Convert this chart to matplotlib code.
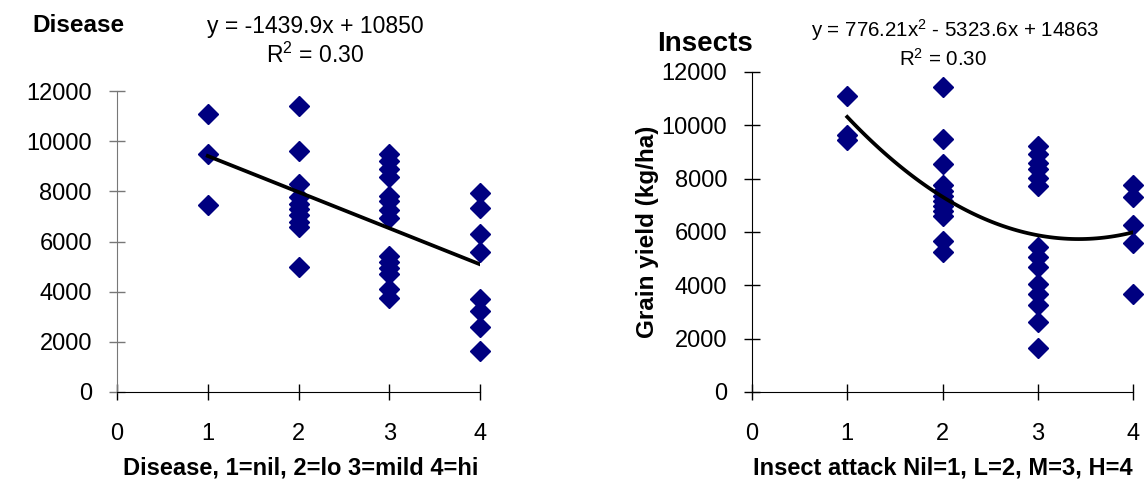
import numpy as np
import matplotlib.pyplot as plt
from matplotlib import rcParams

rcParams['font.family'] = ['Liberation Sans', 'DejaVu Sans']
rcParams['mathtext.default'] = 'regular'

navy = '#000080'

# disease score (1=nil .. 4=hi) vs grain yield
dis_x = [1, 1, 1,
         2, 2, 2, 2, 2, 2, 2, 2, 2, 2,
         3, 3, 3, 3, 3, 3, 3, 3, 3, 3, 3, 3, 3, 3,
         4, 4, 4, 4, 4, 4, 4, 4]
dis_y = [11080, 9470, 7470,
         11400, 9610, 8310, 7770, 7500, 7300, 7040, 6770, 6570, 5000,
         9500, 9200, 8900, 8580, 7800, 7600, 7250, 6950, 5440, 5200, 4950, 4700, 4100, 3750,
         7930, 7330, 6310, 5600, 3710, 3240, 2610, 1640]
dis_fit = (-1439.9, 10850)

# insect attack (Nil=1 .. H=4) vs grain yield
ins_x = [1, 1, 1,
         2, 2, 2, 2, 2, 2, 2, 2, 2, 2, 2, 2,
         3, 3, 3, 3, 3, 3, 3, 3, 3, 3, 3, 3, 3, 3,
         4, 4, 4, 4, 4]
ins_y = [11090, 9650, 9450,
         11440, 9490, 8540, 7780, 7530, 7340, 7150, 6960, 6770, 6600, 5680, 5250,
         9230, 8920, 8600, 8350, 8030, 7720, 5450, 5070, 4690, 4060, 3680, 3260, 2640, 1660,
         7780, 7320, 6270, 5600, 3680]
ins_fit = (776.21, -5323.6, 14863)

yticks = [0, 2000, 4000, 6000, 8000, 10000, 12000]
xticks = [0, 1, 2, 3, 4]

W, H = 1147, 482
fig = plt.figure(figsize=(W / 100, H / 100), dpi=100)

def px(x0, y0, x1, y1):
    return [x0 / W, 1 - y1 / H, (x1 - x0) / W, (y1 - y0) / H]

def style(ax, ycol):
    ax.set_xlim(0, 4)
    ax.set_ylim(0, 12000)
    ax.set_xticks(xticks)
    ax.set_yticks(yticks)
    for s in ('top', 'right'):
        ax.spines[s].set_visible(False)
    ax.spines['left'].set_color(ycol)
    ax.spines['bottom'].set_color('black')
    ax.tick_params(axis='x', direction='inout', length=12, width=1, pad=16, labelsize=17)
    ax.tick_params(axis='y', direction='inout', length=12, width=1, pad=12, labelsize=17,
                   color=ycol)
    ax.patch.set_alpha(0)

ax1 = fig.add_axes(px(117, 91, 480, 392))
style(ax1, '#777777')
ax1.plot(dis_x, dis_y, 'D', color=navy, ms=10, mec=navy, clip_on=False, zorder=3)
lx = np.linspace(1, 4, 50)
ax1.plot(lx, dis_fit[0] * lx + dis_fit[1], color='black', lw=2.7, zorder=4)

ax2 = fig.add_axes(px(752, 72, 1133, 392))
style(ax2, 'black')
ax2.plot(ins_x, ins_y, 'D', color=navy, ms=10, mec=navy, clip_on=False, zorder=3)
qx = np.linspace(1, 4, 80)
ax2.plot(qx, np.polyval(ins_fit, qx), color='black', lw=2.7, zorder=4)
ax2.set_ylabel('Grain yield (kg/ha)', fontsize=17.5, fontweight='bold', labelpad=2)

# axis labels under each panel
fig.text(301 / W, 1 - 468 / H, 'Disease, 1=nil, 2=lo 3=mild 4=hi', fontsize=17,
         fontweight='bold', ha='center', va='center')
fig.text(943 / W, 1 - 468 / H, 'Insect attack Nil=1, L=2, M=3, H=4', fontsize=17,
         fontweight='bold', ha='center', va='center')

# panel titles and trendline equations
fig.text(32 / W, 1 - 26 / H, 'Disease', fontsize=17.5, fontweight='bold', ha='left', va='center')
fig.text(315 / W, 1 - 26 / H, 'y = -1439.9x + 10850', fontsize=16.5, ha='center', va='center')
fig.text(315 / W, 1 - 55 / H, 'R$^2$ = 0.30', fontsize=16.5, ha='center', va='center')

fig.text(705 / W, 1 - 44 / H, 'Insects', fontsize=20, fontweight='bold', ha='center', va='center')
fig.text(955 / W, 1 - 30 / H, 'y = 776.21x$^2$ - 5323.6x + 14863', fontsize=14.8, ha='center', va='center')
fig.text(943 / W, 1 - 59 / H, 'R$^2$ = 0.30', fontsize=14.8, ha='center', va='center')

fig.savefig('out.png', dpi=100)
